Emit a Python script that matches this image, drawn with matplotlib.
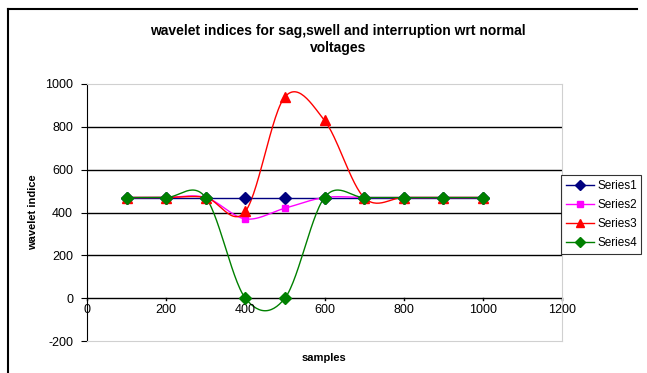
import numpy as np
import matplotlib
matplotlib.use('Agg')
import matplotlib.pyplot as plt
from matplotlib.lines import Line2D

samples = [100, 200, 300, 400, 500, 600, 700, 800, 900, 1000]
series1 = [470, 470, 470, 470, 470, 470, 470, 470, 470, 470]
series2 = [470, 470, 470, 370, 420, 470, 470, 470, 470, 470]
series3 = [470, 470, 470, 405, 940, 830, 470, 470, 470, 470]
series4 = [470, 470, 470, 0, 0, 470, 470, 470, 470, 470]
names = ['Series1', 'Series2', 'Series3', 'Series4']
colors = ['#000080', '#ff00ff', '#ff0000', '#008000']
markers = ['D', 's', '^', 'D']
msizes = [6, 5, 7, 6]


def smooth(x, y, n=30):
    # excel-like smoothed line (catmull-rom bezier)
    x = np.asarray(x, float)
    y = np.asarray(y, float)
    px = np.concatenate([[x[0]], x, [x[-1]]])
    py = np.concatenate([[y[0]], y, [y[-1]]])
    outx, outy = [], []
    t = np.linspace(0, 1, n)
    for i in range(1, len(px) - 2):
        p0 = np.array([px[i], py[i]])
        p3 = np.array([px[i + 1], py[i + 1]])
        c1 = p0 + (np.array([px[i + 1], py[i + 1]]) - np.array([px[i - 1], py[i - 1]])) / 6
        c2 = p3 - (np.array([px[i + 2], py[i + 2]]) - np.array([px[i], py[i]])) / 6
        b = ((1 - t) ** 3)[:, None] * p0 + (3 * (1 - t) ** 2 * t)[:, None] * c1 \
            + (3 * (1 - t) * t ** 2)[:, None] * c2 + (t ** 3)[:, None] * p3
        outx.extend(b[:, 0])
        outy.extend(b[:, 1])
    return outx, outy


plt.rcParams['font.family'] = ['Liberation Sans', 'DejaVu Sans']
plt.rcParams['axes.unicode_minus'] = False
fig = plt.figure(figsize=(6.47, 3.73), dpi=100)
ax = fig.add_axes([87 / 647, 1 - 341 / 373, 475 / 647, 257 / 373])

for v in [200, 400, 600, 800]:
    ax.axhline(v, color='black', lw=1, zorder=1)
ax.axhline(0, color='black', lw=1, zorder=1)

handles = []
for ys, name, c, m, ms in zip([series1, series2, series3, series4], names, colors, markers, msizes):
    sx, sy = smooth(samples, ys)
    ax.plot(sx, sy, color=c, lw=1, zorder=3)
    ax.plot(samples, ys, linestyle='none', marker=m, color=c, markersize=ms, zorder=4)
    handles.append(Line2D([], [], color=c, lw=1, marker=m, markersize=ms - 1))

ax.set_xlim(0, 1200)
ax.set_ylim(-200, 1000)
ax.set_yticks(np.arange(-200, 1001, 200))
ax.set_xticks([])
for s in ['top', 'right', 'bottom']:
    ax.spines[s].set_color('#d0d0d0')
ax.spines['left'].set_color('black')
ax.tick_params(axis='y', labelsize=9, length=4, direction='out', pad=6)

# x ticks on the zero line
for xv in range(0, 1201, 200):
    ax.plot([xv, xv], [0, -8], color='black', lw=1, clip_on=False, zorder=2)
    ax.text(xv, -25, str(xv), ha='center', va='top', fontsize=9)

fig.text(338 / 647, 1 - 31 / 373, 'wavelet indices for sag,swell and interruption wrt normal',
         ha='center', va='center', fontsize=10, fontweight='bold')
fig.text(338 / 647, 1 - 48 / 373, 'voltages', ha='center', va='center', fontsize=10, fontweight='bold')
fig.text(33 / 647, 1 - 212 / 373, 'wavelet indice', rotation=90, ha='center', va='center',
         fontsize=8, fontweight='bold')
fig.text(324 / 647, 1 - 358 / 373, 'samples', ha='center', va='center', fontsize=8, fontweight='bold')

leg = fig.legend(handles, names, loc='upper left', bbox_to_anchor=(561 / 647, 1 - 175 / 373),
                 fontsize=8.5, frameon=True, fancybox=False, edgecolor='black', borderpad=0.4,
                 labelspacing=0.6, handlelength=2.4, handletextpad=0.25, borderaxespad=0)
leg.get_frame().set_linewidth(0.8)

# chart border
fig.add_artist(Line2D([8 / 647, 8 / 647], [0, 1 - 9 / 373], color='black', lw=1.5,
                      transform=fig.transFigure))
fig.add_artist(Line2D([8 / 647, 637 / 647], [1 - 9 / 373, 1 - 9 / 373], color='black', lw=1.5,
                      transform=fig.transFigure))

fig.savefig('out.png', dpi=100)
